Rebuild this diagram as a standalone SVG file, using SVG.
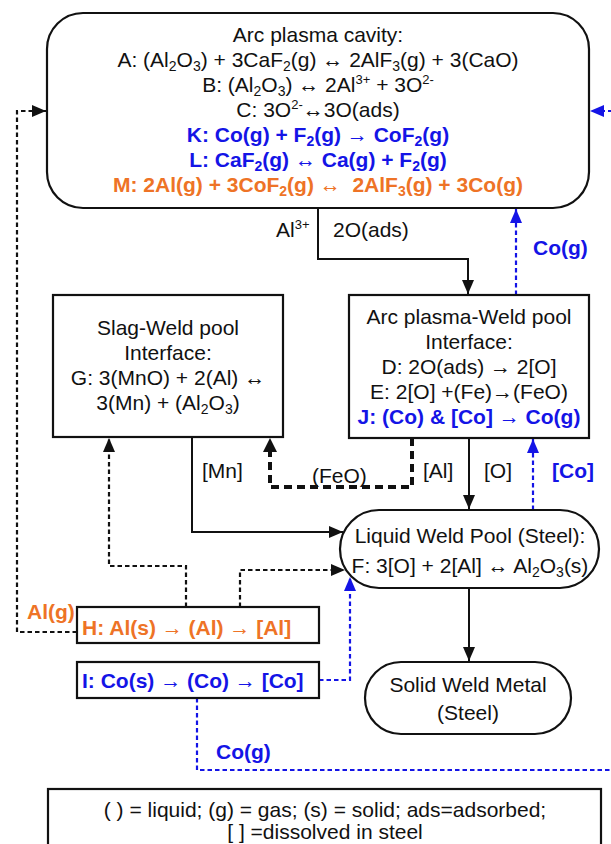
<svg xmlns="http://www.w3.org/2000/svg" width="611" height="844" viewBox="0 0 611 844">
<style>
text{font-family:"Liberation Sans",Arial,sans-serif;font-size:21px;fill:#111}
.c{text-anchor:middle}
.b{font-weight:bold}
.blue{fill:#1414E6}
.or{fill:#EE7326}
.box{fill:#fff;stroke:#111;stroke-width:2.2}
.sol{fill:none;stroke:#111;stroke-width:2}
.dot{fill:none;stroke:#111;stroke-width:2.2;stroke-dasharray:4.5 3}
.thick{fill:none;stroke:#111;stroke-width:4;stroke-dasharray:8 5}
.bdot{fill:none;stroke:#1414E6;stroke-width:2.2;stroke-dasharray:4.5 3}
.sub{font-size:14px}
.sup{font-size:13px}
</style>
<defs>
<marker id="ak" viewBox="0 0 14 12" refX="14" refY="6" markerWidth="14" markerHeight="12" markerUnits="userSpaceOnUse" orient="auto"><path d="M0,0 L14,6 L0,12 Z" fill="#111"/></marker>
<marker id="ab" viewBox="0 0 14 12" refX="14" refY="6" markerWidth="14" markerHeight="12" markerUnits="userSpaceOnUse" orient="auto"><path d="M0,0 L14,6 L0,12 Z" fill="#1414E6"/></marker>
</defs>

<g id="connectors">
<path class="sol" d="M318,208 V259 H468 V294" marker-end="url(#ak)"/>
<path class="bdot" d="M516,295 V209" marker-end="url(#ab)"/>
<path class="bdot" d="M620,111 H590" marker-end="url(#ab)"/>
<path class="dot" d="M77,632 H17 V111 H46" marker-end="url(#ak)"/>
<path class="sol" d="M469,438 V509" marker-end="url(#ak)"/>
<path class="bdot" d="M533,510 V439" marker-end="url(#ab)"/>
<path class="thick" d="M412,438 V487 H270 V452"/>
<path d="M263,452 L270,438 L277,452 Z" fill="#111"/>
<path class="sol" d="M192,437 V532 H343" marker-end="url(#ak)"/>
<path class="dot" d="M186,607 V566 H109 V438" marker-end="url(#ak)"/>
<path class="dot" d="M240,607 V570 H345" marker-end="url(#ak)"/>
<path class="bdot" d="M319,680 H350 V577" marker-end="url(#ab)"/>
<path class="sol" d="M469,588 V661" marker-end="url(#ak)"/>
<path class="bdot" d="M197,698 V770 H620"/>
<text x="276" y="237">Al<tspan class="sup" dy="-8">3+</tspan></text>
<text x="333" y="237">2O(ads)</text>
<text x="533" y="255" class="b blue">Co(g)</text>
<text x="202" y="478">[Mn]</text>
<text x="312" y="483">(FeO)</text>
<text x="423" y="478">[Al]</text>
<text x="484" y="478">[O]</text>
<text x="552" y="478" class="b blue">[Co]</text>
<text x="27" y="619" class="b or">Al(g)</text>
<text x="216" y="759" class="b blue">Co(g)</text>
</g>

<g id="arc-plasma-cavity">
<rect class="box" x="47" y="13" width="542" height="195" rx="36"/>
<text x="318" y="42" class="c">Arc plasma cavity:</text>
<text x="318" y="67" class="c">A: (Al<tspan class="sub" dy="4">2</tspan><tspan dy="-4">O</tspan><tspan class="sub" dy="4">3</tspan><tspan dy="-4">) + 3CaF</tspan><tspan class="sub" dy="4">2</tspan><tspan dy="-4">(g) ↔ 2AlF</tspan><tspan class="sub" dy="4">3</tspan><tspan dy="-4">(g) + 3(CaO)</tspan></text>
<text x="318" y="92" class="c">B: (Al<tspan class="sub" dy="4">2</tspan><tspan dy="-4">O</tspan><tspan class="sub" dy="4">3</tspan><tspan dy="-4">) ↔ 2Al</tspan><tspan class="sup" dy="-8">3+</tspan><tspan dy="8"> + 3O</tspan><tspan class="sup" dy="-8">2-</tspan></text>
<text x="318" y="117" class="c">C: 3O<tspan class="sup" dy="-8">2-</tspan><tspan dy="8">↔3O(ads)</tspan></text>
<text x="318" y="142" class="c b blue">K: Co(g) + F<tspan class="sub" dy="4">2</tspan><tspan dy="-4">(g) → CoF</tspan><tspan class="sub" dy="4">2</tspan><tspan dy="-4">(g)</tspan></text>
<text x="318" y="167" class="c b blue">L: CaF<tspan class="sub" dy="4">2</tspan><tspan dy="-4">(g) ↔ Ca(g) + F</tspan><tspan class="sub" dy="4">2</tspan><tspan dy="-4">(g)</tspan></text>
<text x="318" y="192" class="c b or">M: 2Al(g) + 3CoF<tspan class="sub" dy="4">2</tspan><tspan dy="-4">(g) ↔&#160; 2AlF</tspan><tspan class="sub" dy="4">3</tspan><tspan dy="-4">(g) + 3Co(g)</tspan></text>
</g>

<g id="slag-weld-pool">
<rect class="box" x="53" y="295" width="230" height="142"/>
<text x="168" y="335" class="c">Slag-Weld pool</text>
<text x="168" y="360" class="c">Interface:</text>
<text x="168" y="385" class="c">G: 3(MnO) + 2(Al) ↔</text>
<text x="168" y="410" class="c">3(Mn) + (Al<tspan class="sub" dy="4">2</tspan><tspan dy="-4">O</tspan><tspan class="sub" dy="4">3</tspan><tspan dy="-4">)</tspan></text>
</g>

<g id="arc-plasma-weld-pool">
<rect class="box" x="349" y="295" width="240" height="143"/>
<text x="469" y="324" class="c">Arc plasma-Weld pool</text>
<text x="469" y="349" class="c">Interface:</text>
<text x="469" y="374" class="c">D: 2O(ads) → 2[O]</text>
<text x="469" y="399" class="c">E: 2[O] +(Fe)→(FeO)</text>
<text x="469" y="424" class="c b blue">J: (Co) &amp; [Co] → Co(g)</text>
</g>

<g id="liquid-weld-pool">
<rect class="box" x="340" y="510" width="259" height="78" rx="39"/>
<text x="470" y="543" class="c">Liquid Weld Pool (Steel):</text>
<text x="470" y="573" class="c">F: 3[O] + 2[Al] ↔ Al<tspan class="sub" dy="4">2</tspan><tspan dy="-4">O</tspan><tspan class="sub" dy="4">3</tspan><tspan dy="-4">(s)</tspan></text>
</g>

<g id="solid-weld-metal">
<rect class="box" x="365" y="662" width="206" height="72" rx="36"/>
<text x="468" y="692" class="c">Solid Weld Metal</text>
<text x="468" y="720" class="c">(Steel)</text>
</g>

<g id="h-box">
<rect class="box" x="77" y="607" width="242" height="36"/>
<text x="82" y="635" class="b or">H: Al(s) → (Al) → [Al]</text>
</g>

<g id="i-box">
<rect class="box" x="77" y="662" width="242" height="36"/>
<text x="82" y="688" class="b blue">I: Co(s) → (Co) → [Co]</text>
</g>

<g id="legend">
<rect class="box" x="48" y="789" width="553" height="62"/>
<text x="325" y="817" class="c">( ) = liquid; (g) = gas; (s) = solid; ads=adsorbed;</text>
<text x="325" y="839" class="c">[ ] =dissolved in steel</text>
</g>
</svg>
